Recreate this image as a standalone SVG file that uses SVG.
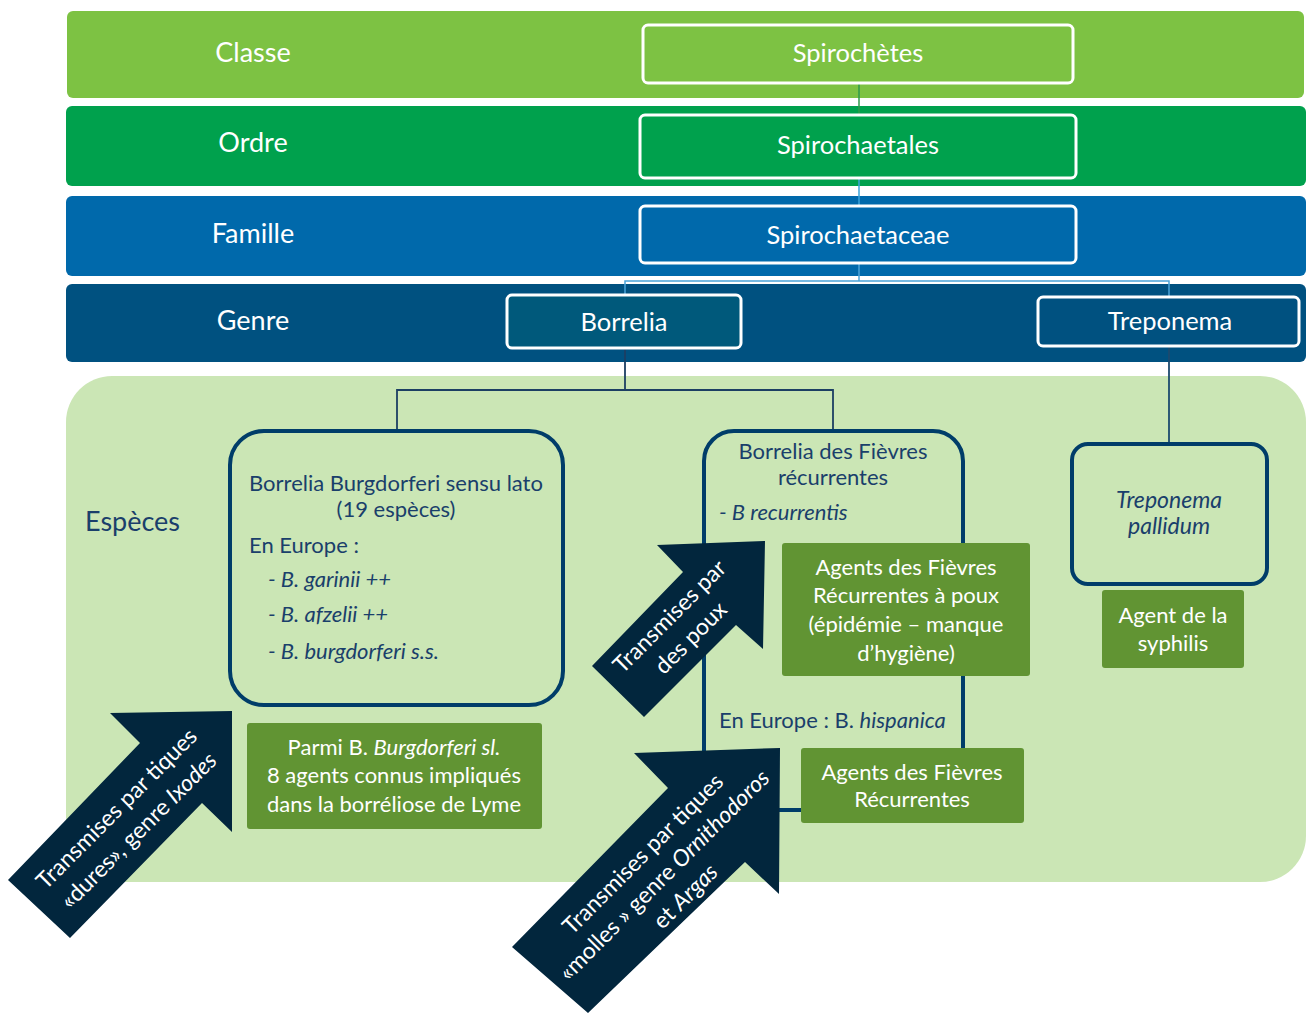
<svg xmlns="http://www.w3.org/2000/svg" width="1309" height="1013" viewBox="0 0 1309 1013">
<style>
text{font-family:Lato,"Open Sans","Liberation Sans",sans-serif}
.band{font-size:27px;fill:#fff}
.top{font-size:25.5px;fill:#fff;text-anchor:middle}
.topbox{stroke:#fff;stroke-width:3}
.dk{font-size:22px;fill:#1a3f6b}
.dkc{font-size:22px;fill:#1a3f6b;text-anchor:middle}
.wt{font-size:22px;fill:#fff;text-anchor:middle}
.at{font-size:23px;fill:#fff;text-anchor:middle}
.gbox{fill:#619433}
.sbox{fill:#cbe6b5;stroke:#003d69;stroke-width:4}
.arrow{fill:#02263d}
.it{font-style:italic}
</style>
<rect width="1309" height="1013" fill="#fff"/>
<!-- bands -->
<rect x="67" y="11" width="1237" height="87" rx="6" fill="#7dc243"/>
<rect x="66" y="106" width="1240" height="80" rx="6" fill="#00a14d"/>
<rect x="66" y="196" width="1240" height="80" rx="6" fill="#0069ab"/>
<rect x="66" y="284" width="1240" height="78" rx="6" fill="#005180"/>
<rect x="66" y="376" width="1240" height="506" rx="46" fill="#cbe6b5"/>
<text class="band" x="253" y="62" text-anchor="middle">Classe</text>
<text class="band" x="253" y="152" text-anchor="middle">Ordre</text>
<text class="band" x="253" y="243" text-anchor="middle">Famille</text>
<text class="band" x="253" y="330" text-anchor="middle">Genre</text>
<text x="85" y="531" style="font-size:27px;fill:#1a3f6b">Espèces</text>
<!-- connectors -->
<g id="connectors" fill="none">
<line x1="859" y1="83" x2="859" y2="114" stroke="#2e9a4a" stroke-width="1.5"/>
<line x1="859" y1="178" x2="859" y2="206" stroke="#3aa3da" stroke-width="1.5"/>
<polyline points="859,263 859,281" stroke="#4aa3d8" stroke-width="1.5"/>
<polyline points="625,294 625,281 1169,281 1169,297" stroke="#4aa3d8" stroke-width="1.5"/>
<polyline points="625,348 625,390" stroke="#1c3f63" stroke-width="1.8"/>
<polyline points="397,431 397,390 833,390 833,431" stroke="#1c3f63" stroke-width="1.8"/>
<polyline points="1169,346 1169,443" stroke="#1c4a6e" stroke-width="1.8"/>
</g>
<!-- top nodes -->
<g id="n-spirochetes"><rect class="topbox" x="643" y="25" width="430" height="58" rx="5" fill="#7dc243"/><text class="top" x="858" y="62">Spirochètes</text></g>
<g id="n-spirochaetales"><rect class="topbox" x="640" y="115" width="436" height="63" rx="5" fill="#00a14d"/><text class="top" x="858" y="154">Spirochaetales</text></g>
<g id="n-spirochaetaceae"><rect class="topbox" x="640" y="206" width="436" height="57" rx="5" fill="#0069ab"/><text class="top" x="858" y="244">Spirochaetaceae</text></g>
<g id="n-borrelia"><rect class="topbox" x="507" y="295" width="234" height="53" rx="5" fill="#00597b"/><text class="top" x="624" y="331">Borrelia</text></g>
<g id="n-treponema"><rect class="topbox" x="1038" y="297" width="261" height="49" rx="5" fill="#005180"/><text class="top" x="1170" y="330">Treponema</text></g>
<!-- species boxes -->
<g id="n-bbsl">
<rect class="sbox" x="230" y="431" width="333" height="274" rx="34"/>
<text class="dkc" x="396" y="491">Borrelia Burgdorferi sensu lato</text>
<text class="dkc" x="396" y="517">(19 espèces)</text>
<text class="dk" x="249" y="553">En Europe :</text>
<text class="dk it" x="268" y="587">- B. garinii ++</text>
<text class="dk it" x="268" y="622">- B. afzelii ++</text>
<text class="dk it" x="268" y="659">- B. burgdorferi s.s.</text>
</g>
<g id="n-fievres">
<rect class="sbox" x="704" y="431" width="259" height="379" rx="30"/>
<text class="dkc" x="833" y="459">Borrelia des Fièvres</text>
<text class="dkc" x="833" y="485">récurrentes</text>
<text class="dk it" x="719" y="520">- B recurrentis</text>
<text class="dk" x="719" y="728">En Europe : B. <tspan class="it">hispanica</tspan></text>
</g>
<g id="n-pallidum">
<rect class="sbox" x="1072" y="444" width="195" height="140" rx="16"/>
<text class="dkc it" x="1169" y="508" style="font-size:23px">Treponema</text>
<text class="dkc it" x="1169" y="534" style="font-size:23px">pallidum</text>
</g>
<!-- green boxes -->
<g id="n-parmi">
<rect class="gbox" x="247" y="723" width="295" height="106" rx="3"/>
<text class="wt" x="394" y="755">Parmi B. <tspan class="it">Burgdorferi sl.</tspan></text>
<text class="wt" x="394" y="783">8 agents connus impliqués</text>
<text class="wt" x="394" y="812">dans la borréliose de Lyme</text>
</g>
<g id="n-poux">
<rect class="gbox" x="782" y="543" width="248" height="133" rx="3"/>
<text class="wt" x="906" y="575">Agents des Fièvres</text>
<text class="wt" x="906" y="603">Récurrentes à poux</text>
<text class="wt" x="906" y="632">(épidémie – manque</text>
<text class="wt" x="906" y="661">d’hygiène)</text>
</g>
<g id="n-recurrentes">
<rect class="gbox" x="801" y="748" width="223" height="75" rx="3"/>
<text class="wt" x="912" y="780">Agents des Fièvres</text>
<text class="wt" x="912" y="807">Récurrentes</text>
</g>
<g id="n-syphilis">
<rect class="gbox" x="1102" y="590" width="142" height="78" rx="3"/>
<text class="wt" x="1173" y="623">Agent de la</text>
<text class="wt" x="1173" y="651">syphilis</text>
</g>
<!-- arrows -->
<g id="arrow-dures">
<polygon class="arrow" points="232,711 110,713 140,743 8,880 70,938 202,803 232,832"/>
<g transform="translate(127.5,819.5) rotate(-45)">
<text class="at" x="0" y="-7.5">Transmises par tiques</text>
<text class="at" x="0" y="23.5">«dures», genre <tspan class="it">Ixodes</tspan></text>
</g>
</g>
<g id="arrow-poux">
<polygon class="arrow" points="765,541 657,545 683,572 592,666 644,717 736,625 763,649"/>
<g transform="translate(680,627) rotate(-45)">
<text class="at" x="0" y="-7">Transmises par</text>
<text class="at" x="0" y="23">des poux</text>
</g>
</g>
<g id="arrow-molles">
<polygon class="arrow" points="780,748 634,753 668,788 512,947 588,1013 745,862 779,894"/>
<g transform="translate(664,875) rotate(-45)">
<text class="at" x="0" y="-22">Transmises par tiques</text>
<text class="at" x="0" y="8">«molles » genre <tspan class="it">Ornithodoros</tspan></text>
<text class="at" x="0" y="38">et <tspan class="it">Argas</tspan></text>
</g>
</g>
</svg>
